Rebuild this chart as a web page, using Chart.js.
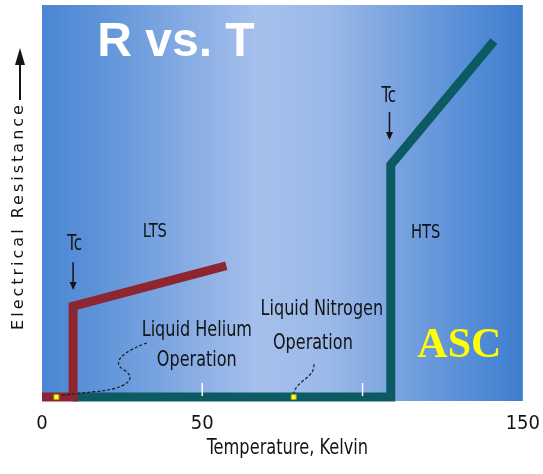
<!DOCTYPE html>
<html>
<head>
<meta charset="utf-8">
<title>R vs. T</title>
<script src="https://cdn.jsdelivr.net/npm/chart.js@4.4.0/dist/chart.umd.min.js"></script>
<style>
  html, body { margin: 0; padding: 0; background: #ffffff; }
  #wrap { width: 543px; height: 474px; }
  canvas { display: block; }
</style>
</head>
<body>
<div id="wrap"><canvas id="chart" width="543" height="474"></canvas></div>
<script>
// Resistance (arbitrary units) against temperature (kelvin)
const ltsTemps = [0, 9.7, 9.7, 57.5];
const ltsResistance = [0, 0, 23.2, 33.5];
const htsTemps = [9.7, 108.8, 108.8, 141];
const htsResistance = [0, 0, 59.2, 90.8];
const coolantTemps = [4.5, 78.5];
const coolantResistance = [0, 0];

// Axis ticks
const xTickValues = [0, 50, 150];
const xTickLabels = ['0', '50', '150'];
const xMarkValues = [50, 100];

const NARROW = "'DejaVu Sans Condensed', 'DejaVu Sans', sans-serif";
const INK = '#141414';
const LTS_RED = '#8e2632';
const HTS_TEAL = '#0c5b62';

const toPoints = (xs, ys) => xs.map((x, i) => ({ x, y: ys[i] }));

// Text annotations placed in data units (kelvin, resistance); sx narrows the glyphs
const notes = [
  { text: 'R vs. T', x: 41.8, y: 86.9, font: "bold 48px 'Liberation Sans', Arial, sans-serif", color: '#ffffff', sx: 1 },
  { text: 'Tc', x: 10.2, y: 37.5, font: '21px ' + NARROW, color: INK, sx: 0.8 },
  { text: 'Tc', x: 108.2, y: 75.3, font: '21px ' + NARROW, color: INK, sx: 0.8 },
  { text: 'LTS', x: 35.2, y: 40.8, font: '19px ' + NARROW, color: INK, sx: 0.86 },
  { text: 'HTS', x: 119.7, y: 40.6, font: '19px ' + NARROW, color: INK, sx: 0.86 },
  { text: 'Liquid Helium', x: 48.3, y: 15.7, font: '21px ' + NARROW, color: INK, sx: 0.85 },
  { text: 'Operation', x: 48.3, y: 7.9, font: '21px ' + NARROW, color: INK, sx: 0.85 },
  { text: 'Liquid Nitrogen', x: 87.3, y: 21.0, font: '21px ' + NARROW, color: INK, sx: 0.85 },
  { text: 'Operation', x: 84.5, y: 12.3, font: '21px ' + NARROW, color: INK, sx: 0.85 },
  { text: 'ASC', x: 130.2, y: 10.2, font: "bold 42px 'Liberation Serif', 'Times New Roman', serif", color: '#ffff00', sx: 1 }
];

// Downward arrows under the Tc labels: [x, yFrom, yTo]
const tcArrows = [
  [9.7, 34.4, 27.3],
  [108.4, 72.7, 65.6]
];

// Dashed leaders from the coolant notes to their markers (bezier paths, data units)
const leaders = [
  [[32.7, 13.8], ['C', 25.6, 11.7, 21.2, 8.9, 25.6, 6.9], ['C', 29.9, 4.8, 26.8, 2.0, 15.6, 1.3], ['L', 6.2, 0.5]],
  [[84.8, 8.4], ['C', 85.4, 5.1, 79.2, 4.1, 78.6, 1.0]]
];

const plotBackground = {
  id: 'plotBackground',
  beforeDraw(chart) {
    const { ctx, chartArea: a } = chart;
    const g = ctx.createLinearGradient(a.left, 0, a.right, 0);
    g.addColorStop(0, '#4a86d3');
    g.addColorStop(0.12, '#5f93d9');
    g.addColorStop(0.45, '#a6c0ec');
    g.addColorStop(0.6, '#9ab8e8');
    g.addColorStop(0.76, '#74a0de');
    g.addColorStop(1, '#3d7ecf');
    ctx.save();
    ctx.fillStyle = g;
    ctx.fillRect(a.left, a.top, a.right - a.left, a.bottom - a.top);
    ctx.restore();
  }
};

// Axis title styling: letter-spaced resistance title, narrowed temperature title
const titleStyling = {
  id: 'titleStyling',
  afterLayout(chart) {
    const y = chart.scales.y;
    if (!y._styled) {
      const origY = y.drawTitle;
      y.drawTitle = function (...args) {
        const ctx = this.ctx;
        ctx.save();
        ctx.letterSpacing = '3px';
        ctx.translate(0, 13);
        origY.apply(this, args);
        ctx.restore();
      };
      y._styled = true;
    }
    const x = chart.scales.x;
    if (!x._styled) {
      const origX = x.drawTitle;
      x.drawTitle = function (...args) {
        const ctx = this.ctx;
        const cx = (this.left + this.right) / 2;
        ctx.save();
        ctx.translate(cx + 5, 0);
        ctx.scale(0.82, 1);
        ctx.translate(-cx, 0);
        origX.apply(this, args);
        ctx.restore();
      };
      x._styled = true;
    }
  }
};

const annotations = {
  id: 'annotations',
  afterDatasetsDraw(chart) {
    const { ctx, scales: { x, y }, chartArea: a } = chart;
    const px = v => x.getPixelForValue(v);
    const py = v => y.getPixelForValue(v);
    ctx.save();

    // small white marks standing on the baseline
    ctx.strokeStyle = '#ffffff';
    ctx.lineWidth = 1.5;
    xMarkValues.forEach(v => {
      ctx.beginPath();
      ctx.moveTo(px(v), a.bottom - 18);
      ctx.lineTo(px(v), a.bottom - 5);
      ctx.stroke();
    });

    // dashed leaders
    ctx.strokeStyle = '#1a1a1a';
    ctx.lineWidth = 1.2;
    ctx.setLineDash([3, 2]);
    leaders.forEach(path => {
      ctx.beginPath();
      ctx.moveTo(px(path[0][0]), py(path[0][1]));
      path.slice(1).forEach(seg => {
        if (seg[0] === 'C') {
          ctx.bezierCurveTo(px(seg[1]), py(seg[2]), px(seg[3]), py(seg[4]), px(seg[5]), py(seg[6]));
        } else {
          ctx.lineTo(px(seg[1]), py(seg[2]));
        }
      });
      ctx.stroke();
    });
    ctx.setLineDash([]);

    // Tc arrows
    ctx.strokeStyle = INK;
    ctx.fillStyle = INK;
    ctx.lineWidth = 1.5;
    tcArrows.forEach(([vx, y0, y1]) => {
      const X = px(vx), Y0 = py(y0), Y1 = py(y1);
      ctx.beginPath();
      ctx.moveTo(X, Y0);
      ctx.lineTo(X, Y1 - 6);
      ctx.stroke();
      ctx.beginPath();
      ctx.moveTo(X - 3.5, Y1 - 8);
      ctx.lineTo(X + 3.5, Y1 - 8);
      ctx.lineTo(X, Y1);
      ctx.closePath();
      ctx.fill();
    });

    // labels
    ctx.textAlign = 'center';
    ctx.textBaseline = 'alphabetic';
    notes.forEach(n => {
      ctx.save();
      ctx.font = n.font;
      ctx.fillStyle = n.color;
      ctx.translate(px(n.x), py(n.y));
      ctx.scale(n.sx, 1);
      ctx.fillText(n.text, 0, 0);
      ctx.restore();
    });

    // arrow above the resistance axis title
    const ax = 20;
    ctx.strokeStyle = INK;
    ctx.fillStyle = INK;
    ctx.lineWidth = 2;
    ctx.beginPath();
    ctx.moveTo(ax, 100);
    ctx.lineTo(ax, 60);
    ctx.stroke();
    ctx.beginPath();
    ctx.moveTo(ax, 48);
    ctx.lineTo(ax - 5, 65);
    ctx.lineTo(ax + 5, 65);
    ctx.closePath();
    ctx.fill();
    ctx.restore();
  }
};

const lineStyle = {
  showLine: true,
  pointRadius: 0,
  pointHoverRadius: 0,
  borderWidth: 9,
  borderJoinStyle: 'miter',
  borderCapStyle: 'butt',
  tension: 0,
  fill: false,
  clip: false
};

new Chart(document.getElementById('chart'), {
  type: 'scatter',
  data: {
    datasets: [
      {
        label: 'Coolant',
        data: toPoints(coolantTemps, coolantResistance),
        pointStyle: 'rect',
        pointRadius: 3.5,
        backgroundColor: '#ffff3a',
        borderColor: '#a8a800',
        borderWidth: 1,
        clip: false
      },
      Object.assign({ label: 'LTS', data: toPoints(ltsTemps, ltsResistance), borderColor: LTS_RED, backgroundColor: LTS_RED }, lineStyle),
      Object.assign({ label: 'HTS', data: toPoints(htsTemps, htsResistance), borderColor: HTS_TEAL, backgroundColor: HTS_TEAL }, lineStyle)
    ]
  },
  options: {
    responsive: false,
    animation: false,
    events: [],
    layout: { padding: { left: 0, right: 20, top: 5, bottom: 0 } },
    plugins: { legend: { display: false }, tooltip: { enabled: false } },
    scales: {
      x: {
        type: 'linear',
        position: 'bottom',
        min: 0,
        max: 150,
        grid: { display: false },
        border: { display: false },
        afterBuildTicks: s => { s.ticks = xTickValues.map(v => ({ value: v })); },
        afterFit: s => { s.height = 73; },
        ticks: {
          autoSkip: false,
          maxRotation: 0,
          padding: 3,
          color: INK,
          font: { family: NARROW, size: 20 },
          callback: v => xTickLabels[xTickValues.indexOf(v)]
        },
        title: {
          display: true,
          text: 'Temperature, Kelvin',
          color: INK,
          font: { family: NARROW, size: 22 },
          padding: { top: 0, bottom: 13 }
        }
      },
      y: {
        type: 'linear',
        min: -1,
        max: 100,
        grid: { display: false },
        border: { display: false },
        ticks: { display: false },
        afterFit: s => { s.width = 42; },
        title: {
          display: true,
          text: 'Electrical Resistance',
          color: INK,
          font: { family: "'DejaVu Sans', Verdana, sans-serif", size: 16 },
          padding: { top: 9, bottom: 0 }
        }
      }
    }
  },
  plugins: [plotBackground, titleStyling, annotations]
});
</script>
</body>
</html>
